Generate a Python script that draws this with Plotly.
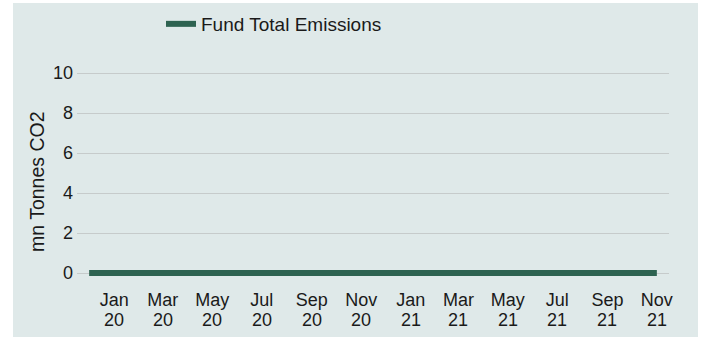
import plotly.graph_objects as go

# Monthly fund emissions, Dec 2019 - Nov 2021 (mn tonnes CO2)
months = [
    "2019-12-01", "2020-01-01", "2020-02-01", "2020-03-01", "2020-04-01", "2020-05-01",
    "2020-06-01", "2020-07-01", "2020-08-01", "2020-09-01", "2020-10-01", "2020-11-01",
    "2020-12-01", "2021-01-01", "2021-02-01", "2021-03-01", "2021-04-01", "2021-05-01",
    "2021-06-01", "2021-07-01", "2021-08-01", "2021-09-01", "2021-10-01", "2021-11-01",
]
emissions = [0] * 24

tick_dates = [
    "2020-01-01", "2020-03-01", "2020-05-01", "2020-07-01", "2020-09-01", "2020-11-01",
    "2021-01-01", "2021-03-01", "2021-05-01", "2021-07-01", "2021-09-01", "2021-11-01",
]
tick_months = ["Jan", "Mar", "May", "Jul", "Sep", "Nov",
               "Jan", "Mar", "May", "Jul", "Sep", "Nov"]
tick_years = ["20", "20", "20", "20", "20", "20",
              "21", "21", "21", "21", "21", "21"]
y_ticks = [0, 2, 4, 6, 8, 10]

PANEL = "#dfe9e9"
LINE = "#2e6351"
GRID = "#c6cbcb"
TEXT = "#1a1a1a"
FONT = "Liberation Sans, Arial, Helvetica, sans-serif"

W, H = 703, 340
ML, MR, MT, MB = 77, 34, 63, 57
pw, ph = W - ML - MR, H - MT - MB


def px_x(p):
    return (p - ML) / pw


def px_y(p):
    return (H - MB - p) / ph


fig = go.Figure()
fig.add_trace(go.Scatter(
    x=months, y=emissions, mode="lines", name="Fund Total Emissions",
    line=dict(color=LINE, width=6), hoverinfo="x+y",
))

# second row of the date labels (two-digit year) under each month tick
year_labels = [
    dict(text=yr, xref="x", yref="paper", x=d, y=px_y(320),
         xanchor="center", yanchor="middle", showarrow=False,
         font=dict(size=18, color=TEXT))
    for d, yr in zip(tick_dates, tick_years)
]

fig.update_layout(
    width=W, height=H,
    margin=dict(l=ML, r=MR, t=MT, b=MB, autoexpand=False),
    paper_bgcolor="white",
    plot_bgcolor="rgba(0,0,0,0)",
    font=dict(family=FONT, size=18, color=TEXT),
    showlegend=True,
    legend=dict(
        orientation="h", x=px_x(161), y=px_y(24), xanchor="left", yanchor="middle",
        bgcolor="rgba(0,0,0,0)", font=dict(size=19),
    ),
    xaxis=dict(
        type="date", range=["2019-11-16", "2021-11-16"],
        tickmode="array", tickvals=tick_dates, ticktext=tick_months,
        showgrid=False, zeroline=False, showline=False, ticks="",
        tickfont=dict(size=18), ticklabelstandoff=4,
    ),
    yaxis=dict(
        range=[-0.5, 10.5], tickmode="array", tickvals=y_ticks,
        showgrid=True, gridcolor=GRID, gridwidth=1, zeroline=False,
        showline=False, ticks="", tickfont=dict(size=18), ticklabelstandoff=3,
    ),
    shapes=[dict(
        type="rect", xref="paper", yref="paper", layer="below",
        x0=px_x(13), x1=px_x(698), y0=px_y(337), y1=px_y(3),
        fillcolor=PANEL, line=dict(width=0),
    )],
    annotations=[dict(
        text="mn Tonnes CO2", xref="paper", yref="paper",
        x=px_x(37), y=px_y(182), xanchor="center", yanchor="middle",
        textangle=-90, showarrow=False, font=dict(size=19.5),
    )] + year_labels,
)

fig.write_html("out.html")
